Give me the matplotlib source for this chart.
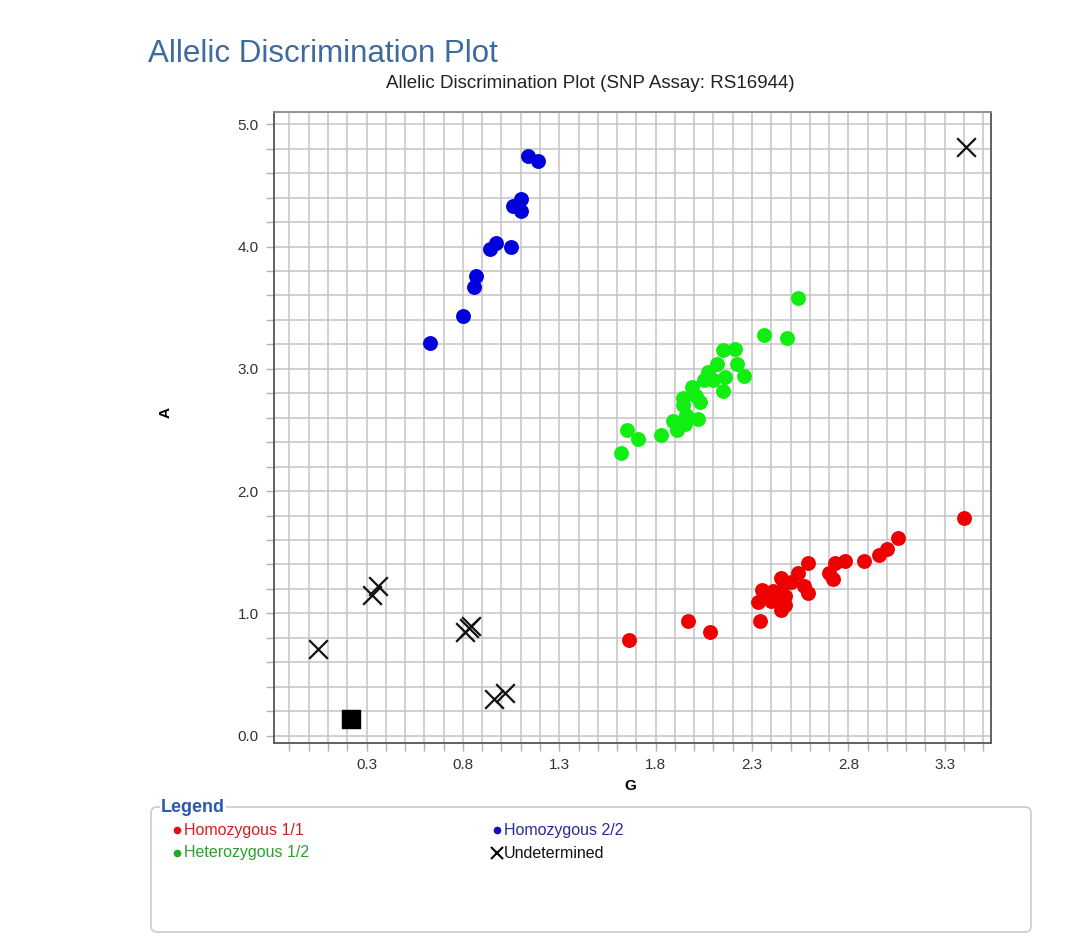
import numpy as np
import matplotlib
matplotlib.use("Agg")
import matplotlib.pyplot as plt
from matplotlib.patches import FancyBboxPatch

plt.rcParams['font.family'] = ['Liberation Sans', 'DejaVu Sans']

# genotype calls (G = allele 1 signal, A = allele 2 signal)
hom11_g = [1.66, 1.97, 2.08, 2.34, 2.33, 2.35, 2.38, 2.40, 2.43, 2.45, 2.45, 2.47,
           2.41, 2.47, 2.50, 2.45, 2.54, 2.57, 2.59, 2.59, 2.70, 2.72, 2.73, 2.78,
           2.88, 2.96, 3.00, 3.06, 3.40]
hom11_a = [0.78, 0.94, 0.85, 0.94, 1.09, 1.19, 1.15, 1.10, 1.11, 1.03, 1.19, 1.14,
           1.18, 1.07, 1.26, 1.29, 1.33, 1.22, 1.17, 1.41, 1.33, 1.28, 1.41, 1.43,
           1.43, 1.48, 1.53, 1.62, 1.78]

het12_g = [1.62, 1.65, 1.71, 1.83, 1.89, 1.91, 1.95, 1.94, 1.96, 2.02, 1.94, 1.99,
           2.01, 2.03, 2.05, 2.07, 2.10, 2.12, 2.15, 2.16, 2.15, 2.21, 2.22, 2.26,
           2.36, 2.48, 2.54]
het12_a = [2.31, 2.50, 2.43, 2.46, 2.57, 2.50, 2.55, 2.76, 2.62, 2.59, 2.70, 2.85,
           2.78, 2.73, 2.91, 2.97, 2.91, 3.04, 2.82, 2.93, 3.15, 3.16, 3.04, 2.94,
           3.28, 3.25, 3.58]

hom22_g = [0.63, 0.80, 0.86, 0.87, 0.94, 0.97, 1.05, 1.06, 1.10, 1.10, 1.14, 1.19]
hom22_a = [3.21, 3.43, 3.67, 3.76, 3.98, 4.03, 4.00, 4.33, 4.39, 4.29, 4.74, 4.70]

undet_g = [0.05, 0.33, 0.36, 0.81, 0.83, 0.84, 0.96, 1.02, 3.41]
undet_a = [0.71, 1.15, 1.22, 0.85, 0.88, 0.90, 0.30, 0.35, 4.81]

ntc_g = [0.22]
ntc_a = [0.14]

legend_labels = ["Homozygous 1/1", "Homozygous 2/2", "Heterozygous 1/2", "Undetermined"]
legend_text_colors = ["#d02020", "#2a2a9a", "#2aa02a", "#111111"]
legend_marker_colors = ["#dd1111", "#1111bb", "#22aa22", "black"]

W, H = 1067, 952
fig = plt.figure(figsize=(W / 100, H / 100), dpi=100)

ax = fig.add_axes([274 / W, 1 - 743 / H, (991 - 274) / W, (743 - 112) / H])
ax.scatter(hom22_g, hom22_a, s=115, color="#0000dd", zorder=3, linewidths=0)
ax.scatter(het12_g, het12_a, s=115, color="#11ee11", zorder=3, linewidths=0)
ax.scatter(hom11_g, hom11_a, s=115, color="#ee0000", zorder=3, linewidths=0)
ax.scatter(undet_g, undet_a, s=180, marker="x", color="#111111", linewidths=1.6, zorder=4)
ax.scatter(ntc_g, ntc_a, s=160, marker="s", color="black", zorder=4)

ax.set_xlim(-0.18, 3.54)
ax.set_ylim(-0.06, 5.1)
ax.set_xticks(np.arange(0.3, 3.31, 0.5))
ax.set_xticklabels([f"{v:.1f}" for v in np.arange(0.3, 3.31, 0.5)])
ax.set_xticks(np.arange(-0.1, 3.51, 0.1), minor=True)
ax.set_yticks(np.arange(0, 5.01, 1.0))
ax.set_yticklabels([f"{v:.1f}" for v in np.arange(0, 5.01, 1.0)])
ax.set_yticks(np.arange(0, 5.01, 0.2), minor=True)
ax.grid(which="both", color="#c4c4c4", linewidth=1.1, zorder=0)
ax.set_axisbelow(True)
ax.tick_params(which="both", length=6, color="#b0b0b0", width=1.0,
               labelsize=11, labelcolor="#333333", pad=5)
for sp in ax.spines.values():
    sp.set_color("#555555")
    sp.set_linewidth(1.3)
ax.spines["top"].set_color("#888888")

# titles and axis labels
fig.text(148 / W, 1 - 54 / H, "Allelic Discrimination Plot", fontsize=22.5,
         color="#3d6b9e", va="center", ha="left")
fig.text(590 / W, 1 - 83 / H, "Allelic Discrimination Plot (SNP Assay: RS16944)",
         fontsize=13.5, color="#222222", va="center", ha="center")
fig.text(630 / W, 1 - 786 / H, "G", fontsize=11, fontweight="bold",
         va="center", ha="center")
fig.text(166 / W, 1 - 412 / H, "A", fontsize=11, fontweight="bold",
         va="center", ha="center", rotation=90)

# legend panel drawn in pixel space
lax = fig.add_axes([0, 0, 1, 1])
lax.set_xlim(0, W)
lax.set_ylim(H, 0)
lax.axis("off")
box = FancyBboxPatch((151, 807), 880, 125, boxstyle="round,pad=0,rounding_size=6",
                     facecolor="white", edgecolor="#cfcfcf", linewidth=1.3)
lax.add_patch(box)
lax.text(161, 807, "Legend", fontsize=13, fontweight="bold", color="#2a5aa8",
         va="center", ha="left", bbox=dict(facecolor="white", edgecolor="none", pad=1))

pos = [(177, 830), (497, 830), (177, 853), (497, 853)]
for (px, py), lab, tc, mc in zip(pos, legend_labels, legend_text_colors, legend_marker_colors):
    if lab == "Undetermined":
        lax.plot(px, py, marker="x", color=mc, markersize=9, mew=1.5)
    else:
        lax.plot(px, py, marker="o", color=mc, markersize=5.5, mew=0)
    lax.text(px + 7, py, lab, fontsize=11.5, color=tc, va="center", ha="left")

fig.savefig("out.png", dpi=100, facecolor="white")
